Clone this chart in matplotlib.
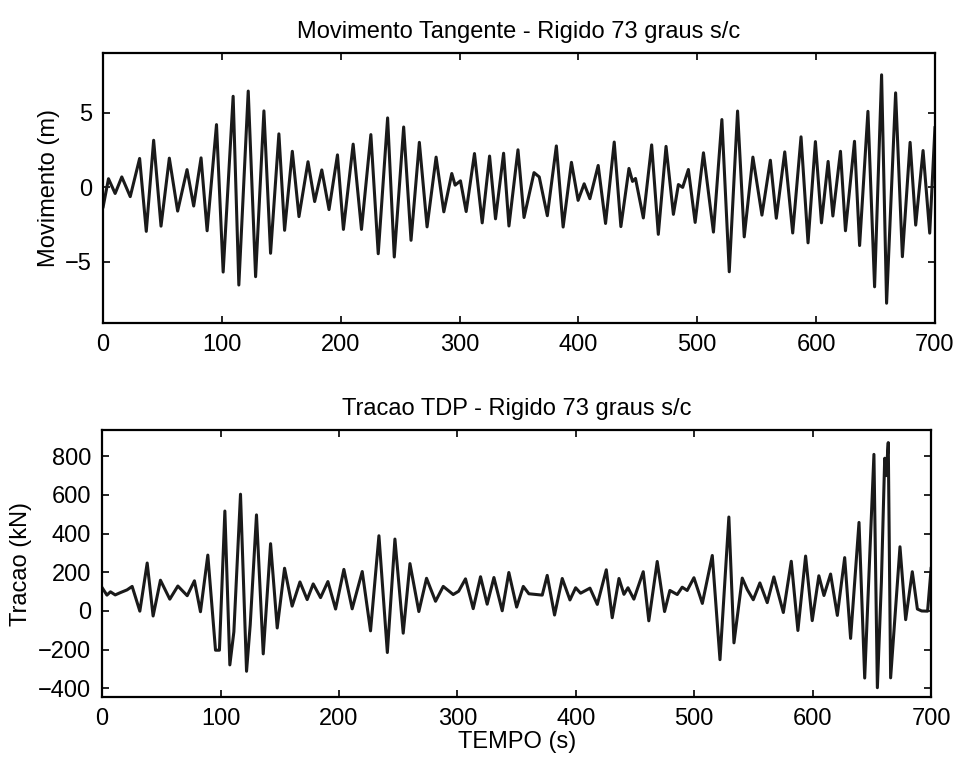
import matplotlib.pyplot as plt

plt.rcParams['font.family'] = ['Liberation Sans', 'DejaVu Sans']

# Movimento tangente (m): extremos
t_mov = [0, 4.5, 10.1, 15.7, 22.8, 30.7, 36.3, 42.5, 48.7, 55.7, 62.7, 70.6,
         76.2, 82.4, 87.5, 95.4, 101, 109.4, 114.2, 122.1, 128.3, 135.3,
         140.9, 147.9, 152.7, 159.2, 164.8, 172.4, 178, 184, 190.1, 197.2,
         202.2, 210.4, 217.4, 225.3, 231.5, 239.4, 245, 252.9, 259.1, 266.1,
         272.6, 280.2, 286.7, 293.4, 296.2, 300.7, 305.5, 312.5, 319, 325.2,
         330.2, 337, 341.5, 349.1, 354.2, 362.6, 367, 373.8, 381.4, 387.1,
         394.1, 399.7, 404.8, 409.6, 416.6, 422.8, 430.1, 435.7, 442.5, 445.5,
         448, 454.6, 461.6, 467.2, 473.7, 479.9, 484.1, 487.7, 492.5, 498.2,
         505.2, 513.6, 520.7, 526.9, 533.9, 539.5, 546.8, 554.4, 561.5, 566.5,
         573.6, 580.3, 587.3, 593.2, 599.4, 604.5, 610.1, 614.1, 620.5, 624.7,
         632.3, 636.6, 643.6, 649.2, 655.1, 659.3, 666.9, 672.6, 679.1, 683.8,
         690, 695.6, 700]
mov = [-1.3, 0.58, -0.41, 0.7, -0.62, 1.94, -2.95, 3.16, -2.6, 1.96, -1.59, 1.19,
       -1.25, 1.98, -2.91, 4.21, -5.68, 6.11, -6.55, 6.46, -5.99, 5.13,
       -4.42, 3.59, -2.88, 2.42, -1.96, 1.72, -0.95, 1.17, -1.49, 2.18,
       -2.82, 2.9, -2.82, 3.54, -4.45, 4.66, -4.67, 4.05, -3.55, 3.02,
       -2.65, 2.03, -1.64, 0.93, 0.15, 0.44, -1.62, 2.27, -2.38, 2.1,
       -2.11, 2.29, -2.59, 2.52, -2.02, 0.99, 0.7, -1.9, 2.78, -2.66,
       1.68, -0.87, 0.24, -0.76, 1.47, -2.42, 3.04, -2.63, 1.27, 0.4,
       0.6, -2.05, 2.85, -3.15, 2.75, -1.81, 0.19, 0.0, 1.2, -2.35,
       2.32, -3.0, 4.55, -5.66, 5.12, -3.32, 2.03, -1.86, 1.82, -2.07,
       2.38, -3.06, 3.39, -3.72, 3.07, -2.38, 1.74, -1.92, 2.42, -2.91,
       3.09, -3.9, 5.1, -6.67, 7.55, -7.77, 6.34, -4.65, 3.02, -2.53,
       2.47, -3.07, 4.0]

# Tracao no TDP (kN): extremos
t_trac = [0, 4, 7, 11, 15.4, 21, 25.3, 31.8, 38, 43, 49.2, 57.1, 63.9, 71.8,
          77.9, 83, 89.2, 95.7, 99, 103.6, 107.8, 111.2, 116.8, 121.9, 125,
          130.3, 136, 142.2, 147.8, 154, 160.4, 167, 173.1, 178.2, 184.4,
          190.6, 197.1, 204.1, 211.1, 219.6, 226.6, 233.7, 240.8, 247.2,
          254.2, 259.9, 267.4, 273.9, 281.5, 288, 291.4, 296.4, 301, 306.8,
          313.3, 319.5, 325.1, 330.8, 337.8, 343.4, 350, 355.6, 360.3, 371.6,
          375.8, 382, 388.5, 395, 399.8, 404, 411.9, 418.1, 425.7, 430.7,
          436.4, 440.6, 444, 449, 456.9, 461.6, 468.7, 474.9, 479.4, 485.6,
          489.8, 494, 499.7, 506.8, 515.2, 521.7, 529.2, 533.5, 540.5, 544.8,
          549.8, 555.4, 561.6, 567.2, 575.2, 581.9, 587.5, 594, 599.6, 605.2,
          609.5, 615.1, 620.8, 627, 632, 639.1, 643.9, 651.7, 654.6, 658,
          660.8, 662, 663.8, 665.8, 673.7, 678.5, 684.1, 688.4, 692, 697, 700]
trac = [120, 82, 99, 83, 95, 109, 127, -1, 248, -26, 159, 61, 129, 79,
        156, -4, 289, -203, -203, 517, -279, -108, 604, -312, -72,
        497, -222, 348, -88, 221, 25, 150, 59, 140, 69,
        152, 10, 215, 11, 204, -103, 389, -215, 372,
        -115, 245, -3, 169, 50, 127, 110, 85, 102, 166,
        12, 177, 35, 173, 1, 199, 20, 127, 89, 82,
        184, -21, 168, 57, 120, 92, 118, 34, 213, -35,
        168, 86, 120, 61, 203, -51, 256, -3, 106, 85,
        123, 106, 172, 39, 287, -252, 486, -165, 170, 110,
        58, 145, 43, 176, -8, 257, -101, 284, -50, 182,
        80, 191, -23, 276, -142, 458, -347, 810, -397, 150,
        790, 700, 871, -346, 332, -45, 203, 10, 0, -1, 220]

fig = plt.figure(figsize=(9.55, 7.71), dpi=100)
ax1 = fig.add_axes([0.108, 0.581, 0.871, 0.350])
ax2 = fig.add_axes([0.107, 0.096, 0.868, 0.346])

fs = 17
for ax in (ax1, ax2):
    ax.tick_params(direction='in', top=True, right=True, length=5,
                   width=1.2, labelsize=fs, pad=8)
    for s in ax.spines.values():
        s.set_linewidth(1.6)
    ax.set_xlim(0, 700)
    ax.set_xticks(range(0, 701, 100))

ax1.plot(t_mov, mov, color='#1a1a1a', lw=2.2)
ax1.set_ylim(-9.1, 9)
ax1.set_yticks([-5, 0, 5])
ax1.set_ylabel('Movimento (m)', fontsize=fs)
ax1.set_title('Movimento Tangente - Rigido 73 graus s/c', fontsize=fs, pad=11)

ax2.plot(t_trac, trac, color='#1a1a1a', lw=2.2)
ax2.set_ylim(-445, 935)
ax2.set_yticks(range(-400, 801, 200))
ax2.set_ylabel('Tracao (kN)', fontsize=fs)
ax2.set_xlabel('TEMPO (s)', fontsize=fs, labelpad=1)
ax2.set_title('Tracao TDP - Rigido 73 graus s/c', fontsize=fs, pad=11)

fig.savefig('out.png', dpi=100)
